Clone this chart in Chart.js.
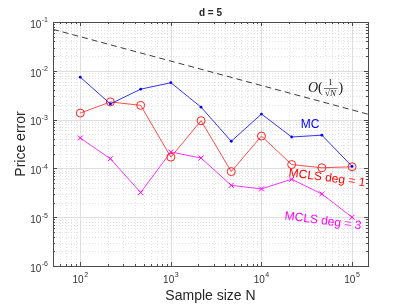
<!DOCTYPE html>
<html>
<head>
<meta charset="utf-8">
<script src="https://cdn.jsdelivr.net/npm/chart.js@4/dist/chart.umd.min.js"></script>
<style>
  html, body { margin: 0; padding: 0; background: #fff; }
  #wrap { width: 407px; height: 305px; }
</style>
</head>
<body>
<div id="wrap"><canvas id="errChart" width="407" height="305"></canvas></div>
<script>
// Sample sizes (x) and errors per method (y)
const sampleSizes = [100, 215, 464, 1000, 2154, 4642, 10000, 21544, 46416, 100000];
const mcError = [7.4e-3, 2.1e-3, 4.2e-3, 5.7e-3, 1.8e-3, 3.6e-4, 1.3e-3, 4.4e-4, 4.8e-4, 1.1e-4];
const mclsDeg1Error = [1.36e-3, 2.3e-3, 1.96e-3, 1.7e-4, 9.5e-4, 8.6e-5, 4.6e-4, 1.2e-4, 1.03e-4, 1.08e-4];
const mclsDeg3Error = [4.2e-4, 1.58e-4, 3.2e-5, 2.17e-4, 1.63e-4, 4.5e-5, 3.8e-5, 6.0e-5, 3.0e-5, 1.0e-5];

// reference slope O(1/sqrt(N)), end points only
const refN = [50, 150000];
const refError = [0.0707, 0.00129];

// tick decades
const xTickExps = [2, 3, 4, 5];
const yTickExps = [-6, -5, -4, -3, -2, -1];

const FONT = '"Liberation Sans", Arial, Helvetica, sans-serif';
const SERIF = '"Liberation Serif", "DejaVu Serif", serif';

function toPoints(xs, ys) {
    return xs.map((x, i) => ({ x: x, y: ys[i] }));
}

// draws "10" with a raised exponent
function drawPow(ctx, exp, x, y, align) {
    ctx.font = '10px ' + FONT;
    const baseW = ctx.measureText('10').width;
    ctx.font = '7px ' + FONT;
    const expW = ctx.measureText(String(exp)).width;
    const total = baseW + expW + 0.5;
    let left = x;
    if (align === 'right') left = x - total;
    else if (align === 'center') left = x - total / 2;
    ctx.textAlign = 'left';
    ctx.textBaseline = 'middle';
    ctx.font = '10px ' + FONT;
    ctx.fillText('10', left, y + 3);
    ctx.font = '7px ' + FONT;
    ctx.fillText(String(exp), left + baseW + 0.5, y - 1.5);
}

const axesPlugin = {
    id: 'matlabAxes',
    beforeDatasetsDraw(chart) {
        const { ctx, chartArea: a, scales } = chart;
        const xs = scales.x, ys = scales.y;
        ctx.save();
        ctx.lineWidth = 0.6;
        // minor grid (dotted)
        ctx.strokeStyle = '#cfcfcf';
        ctx.setLineDash([1, 2]);
        for (let e = 1; e <= 5; e++) {
            for (let m = 2; m <= 9; m++) {
                const v = m * Math.pow(10, e);
                if (v < xs.min || v > xs.max) continue;
                const px = Math.round(xs.getPixelForValue(v)) + 0.5;
                ctx.beginPath(); ctx.moveTo(px, a.top); ctx.lineTo(px, a.bottom); ctx.stroke();
            }
        }
        for (let e = -6; e <= -2; e++) {
            for (let m = 2; m <= 9; m++) {
                const v = m * Math.pow(10, e);
                const py = Math.round(ys.getPixelForValue(v)) + 0.5;
                ctx.beginPath(); ctx.moveTo(a.left, py); ctx.lineTo(a.right, py); ctx.stroke();
            }
        }
        // major grid
        ctx.setLineDash([]);
        ctx.strokeStyle = '#dedede';
        ctx.lineWidth = 1;
        xTickExps.forEach(e => {
            const px = Math.round(xs.getPixelForValue(Math.pow(10, e))) + 0.5;
            ctx.beginPath(); ctx.moveTo(px, a.top); ctx.lineTo(px, a.bottom); ctx.stroke();
        });
        yTickExps.forEach(e => {
            const py = Math.round(ys.getPixelForValue(Math.pow(10, e))) + 0.5;
            ctx.beginPath(); ctx.moveTo(a.left, py); ctx.lineTo(a.right, py); ctx.stroke();
        });
        ctx.restore();
    },
    afterDatasetsDraw(chart) {
        const { ctx, chartArea: a, scales } = chart;
        const xs = scales.x, ys = scales.y;
        ctx.save();
        ctx.strokeStyle = '#4a4a4a';
        ctx.lineWidth = 1;
        // tick marks on all sides
        const tick = (x1, y1, x2, y2) => { ctx.beginPath(); ctx.moveTo(x1, y1); ctx.lineTo(x2, y2); ctx.stroke(); };
        for (let e = 1; e <= 5; e++) {
            for (let m = 1; m <= 9; m++) {
                const v = m * Math.pow(10, e);
                if (v < xs.min || v > xs.max) continue;
                const px = Math.round(xs.getPixelForValue(v)) + 0.5;
                const len = m === 1 ? 4 : 2;
                tick(px, a.bottom, px, a.bottom - len);
                tick(px, a.top, px, a.top + len);
            }
        }
        for (let e = -6; e <= -1; e++) {
            for (let m = 1; m <= 9; m++) {
                const v = m * Math.pow(10, e);
                if (v > ys.max) continue;
                const py = Math.round(ys.getPixelForValue(v)) + 0.5;
                const len = m === 1 ? 4 : 2;
                tick(a.left, py, a.left + len, py);
                tick(a.right, py, a.right - len, py);
            }
        }
        // box
        ctx.strokeRect(Math.round(a.left) + 0.5, Math.round(a.top) + 0.5,
            Math.round(a.right - a.left), Math.round(a.bottom - a.top));

        // tick labels
        ctx.fillStyle = '#333';
        xTickExps.forEach(e => {
            drawPow(ctx, e, xs.getPixelForValue(Math.pow(10, e)), a.bottom + 11, 'center');
        });
        yTickExps.forEach(e => {
            drawPow(ctx, e, a.left - 5, ys.getPixelForValue(Math.pow(10, e)), 'right');
        });

        // axis titles
        ctx.fillStyle = '#262626';
        ctx.textAlign = 'center';
        ctx.textBaseline = 'middle';
        ctx.font = 'bold 10px ' + FONT;
        ctx.fillText('d = 5', (a.left + a.right) / 2, 13);
        ctx.font = '14px ' + FONT;
        ctx.fillText('Sample size N', (a.left + a.right) / 2, 296);
        ctx.save();
        ctx.translate(21, (a.top + a.bottom) / 2);
        ctx.rotate(-Math.PI / 2);
        ctx.fillText('Price error', 0, 0);
        ctx.restore();

        // series labels
        ctx.font = '12px ' + FONT;
        ctx.fillStyle = '#0000ff';
        ctx.fillText('MC', 310, 125);
        ctx.save();
        ctx.translate(327, 178);
        ctx.rotate(0.13);
        ctx.fillStyle = '#ff0000';
        ctx.fillText('MCLS deg = 1', 0, 0);
        ctx.restore();
        ctx.save();
        ctx.translate(323, 221);
        ctx.rotate(0.13);
        ctx.fillStyle = '#ff00ff';
        ctx.fillText('MCLS deg = 3', 0, 0);
        ctx.restore();

        // O(1/sqrt(N)) label
        ctx.fillStyle = '#222';
        ctx.textAlign = 'left';
        ctx.font = 'italic 14px ' + SERIF;
        ctx.fillText('O', 308, 88);
        ctx.font = '14px ' + SERIF;
        ctx.fillText('(', 318, 88);
        ctx.font = '9px ' + SERIF;
        ctx.textAlign = 'center';
        ctx.fillText('1', 330.5, 83);
        ctx.font = 'italic 9px ' + SERIF;
        ctx.fillText('\u221AN', 330.5, 93.5);
        ctx.strokeStyle = '#222';
        ctx.lineWidth = 0.6;
        tick(324, 88.5, 337.5, 88.5);
        ctx.font = '14px ' + SERIF;
        ctx.textAlign = 'left';
        ctx.fillText(')', 338.5, 88);
        ctx.restore();
    }
};

const ctx = document.getElementById('errChart').getContext('2d');
const errChart = new Chart(ctx, {
    type: 'line',
    data: {
        datasets: [{
            label: 'O(1/sqrt(N))',
            data: toPoints(refN, refError),
            borderColor: '#262626',
            borderWidth: 0.9,
            borderDash: [6, 4],
            pointRadius: 0,
            fill: false
        }, {
            label: 'MC',
            data: toPoints(sampleSizes, mcError),
            borderColor: '#0000ff',
            backgroundColor: '#0000ff',
            borderWidth: 0.8,
            pointStyle: 'circle',
            pointRadius: 1.4,
            pointBorderWidth: 0
        }, {
            label: 'MCLS deg = 1',
            data: toPoints(sampleSizes, mclsDeg1Error),
            borderColor: '#ff2020',
            backgroundColor: 'rgba(0,0,0,0)',
            borderWidth: 0.8,
            pointStyle: 'circle',
            pointRadius: 4,
            pointBorderWidth: 1
        }, {
            label: 'MCLS deg = 3',
            data: toPoints(sampleSizes, mclsDeg3Error),
            borderColor: '#ff00ff',
            backgroundColor: '#ff00ff',
            borderWidth: 0.8,
            pointStyle: 'crossRot',
            pointRadius: 3.5,
            pointBorderWidth: 1
        }]
    },
    options: {
        responsive: false,
        animation: false,
        devicePixelRatio: 1,
        layout: { padding: { left: 53, right: 39, top: 22, bottom: 39 } },
        plugins: { legend: { display: false }, tooltip: { enabled: false } },
        elements: { line: { tension: 0 } },
        scales: {
            x: { type: 'logarithmic', min: 50, max: 150000, display: false },
            y: { type: 'logarithmic', min: 1e-6, max: 1e-1, display: false }
        }
    },
    plugins: [axesPlugin]
});
</script>
</body>
</html>
